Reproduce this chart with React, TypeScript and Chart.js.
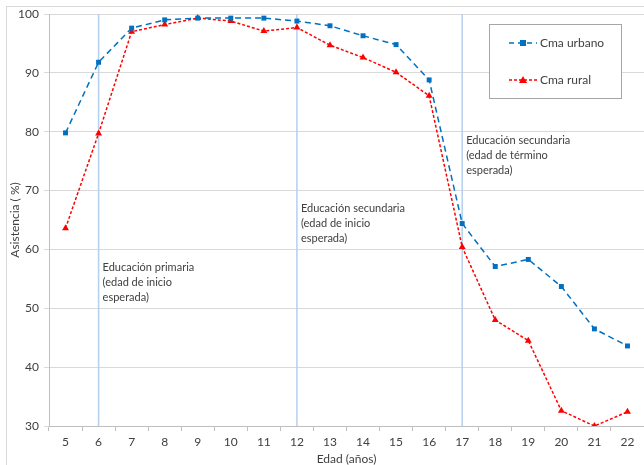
import React, { useEffect, useRef } from "react";
import { Chart, registerables } from "chart.js";

Chart.register(...registerables);

const ages: string[] = ["5", "6", "7", "8", "9", "10", "11", "12", "13", "14", "15", "16", "17", "18", "19", "20", "21", "22"];
const urbano: number[] = [79.8, 91.8, 97.6, 99.0, 99.3, 99.3, 99.3, 98.8, 98.0, 96.3, 94.8, 88.8, 64.4, 57.1, 58.3, 53.7, 46.5, 43.6];
const rural: number[] = [63.6, 79.7, 97.0, 98.2, 99.3, 98.8, 97.1, 97.7, 94.7, 92.6, 90.1, 86.1, 60.4, 48.0, 44.5, 32.6, 30.0, 32.4];
const seriesNames: string[] = ["Cma urbano", "Cma rural"];
const markerAges: string[] = ["6", "12", "17"];
const notes: string[][] = [
  ["Educación primaria", "(edad de inicio", "esperada)"],
  ["Educación secundaria", "(edad de inicio", "esperada)"],
  ["Educación secundaria", "(edad de término", "esperada)"],
];
const noteValues: number[] = [57.0, 66.9, 78.6];

const FONT = "Lato, 'Open Sans', sans-serif";
const BLUE = "#0070c0";
const RED = "#ff0000";
const TEXT = "#404040";

const overlay = {
  id: "overlay",
  beforeDatasetsDraw(chart: any) {
    const ctx = chart.ctx;
    const x = chart.scales.x;
    const y = chart.scales.y;
    const area = chart.chartArea;
    ctx.save();
    ctx.strokeStyle = "#b4d0ee";
    ctx.lineWidth = 1.5;
    markerAges.forEach((a, i) => {
      const px = x.getPixelForValue(ages.indexOf(a));
      ctx.beginPath();
      ctx.moveTo(px, area.top);
      ctx.lineTo(px, area.bottom);
      ctx.stroke();
      ctx.fillStyle = TEXT;
      ctx.font = `11px ${FONT}`;
      ctx.textBaseline = "middle";
      ctx.textAlign = "left";
      const py = y.getPixelForValue(noteValues[i]);
      notes[i].forEach((line, j) => {
        ctx.fillText(line, px + 4, py + j * 15);
      });
    });
    ctx.restore();
  },
  afterDraw(chart: any) {
    const ctx = chart.ctx;
    ctx.save();
    ctx.strokeStyle = "#d9d9d9";
    ctx.lineWidth = 1;
    ctx.strokeRect(6.5, 6.5, 800, 600);
    ctx.fillStyle = "#ffffff";
    ctx.fillRect(489, 24, 133, 75);
    ctx.strokeStyle = "#a6a6a6";
    ctx.strokeRect(489.5, 24.5, 132, 74);
    const rows = [
      { y: 43, color: BLUE, dash: [5, 4], style: "rect" },
      { y: 80, color: RED, dash: [3, 2], style: "triangle" },
    ];
    rows.forEach((r, i) => {
      ctx.strokeStyle = r.color;
      ctx.lineWidth = 1.5;
      ctx.setLineDash(r.dash);
      ctx.beginPath();
      ctx.moveTo(509, r.y);
      ctx.lineTo(537, r.y);
      ctx.stroke();
      ctx.setLineDash([]);
      ctx.fillStyle = r.color;
      if (r.style === "rect") {
        ctx.fillRect(520, r.y - 3, 6, 6);
      } else {
        ctx.beginPath();
        ctx.moveTo(523, r.y - 4);
        ctx.lineTo(527, r.y + 3);
        ctx.lineTo(519, r.y + 3);
        ctx.closePath();
        ctx.fill();
      }
      ctx.fillStyle = TEXT;
      ctx.font = `12px ${FONT}`;
      ctx.textBaseline = "middle";
      ctx.textAlign = "left";
      ctx.fillText(seriesNames[i], 540, r.y);
    });
    ctx.restore();
  },
};

export default function App() {
  const ref = useRef<HTMLCanvasElement | null>(null);
  useEffect(() => {
    document.body.style.margin = "0";
    if (!ref.current) return;
    const chart = new Chart(ref.current, {
      type: "line",
      data: {
        labels: ages,
        datasets: [
          {
            label: seriesNames[0],
            data: urbano,
            borderColor: BLUE,
            backgroundColor: BLUE,
            borderWidth: 1.5,
            borderDash: [6, 4],
            pointStyle: "rect",
            pointRadius: 3.5,
            pointBorderWidth: 0,
            tension: 0,
          },
          {
            label: seriesNames[1],
            data: rural,
            borderColor: RED,
            backgroundColor: RED,
            borderWidth: 1.5,
            borderDash: [3, 2],
            pointStyle: "triangle",
            pointRadius: 4,
            pointBorderWidth: 0,
            tension: 0,
          },
        ],
      },
      options: {
        animation: false,
        responsive: true,
        maintainAspectRatio: false,
        layout: { autoPadding: false, padding: { top: 14, right: 0, left: 0, bottom: 0 } },
        plugins: { legend: { display: false }, tooltip: { enabled: false } },
        scales: {
          x: {
            offset: true,
            grid: { drawOnChartArea: false, offset: true, tickLength: 5, color: "#bfbfbf" },
            border: { color: "#bfbfbf" },
            ticks: { color: TEXT, font: { family: FONT, size: 12 }, padding: 4, maxRotation: 0, autoSkip: false },
            title: { display: true, text: "Edad (años)", color: TEXT, font: { family: FONT, size: 12, lineHeight: 1 }, padding: { top: 0, bottom: 0 } },
            afterFit: (s: any) => { s.height = 39; s.paddingLeft = 0; s.paddingRight = 0; },
          },
          y: {
            min: 30,
            max: 100,
            ticks: { stepSize: 10, color: TEXT, font: { family: FONT, size: 12 }, padding: 5 },
            grid: { color: "#d9d9d9", tickLength: 5 },
            border: { color: "#bfbfbf" },
            title: { display: true, text: "Asistencia ( %)", color: TEXT, font: { family: FONT, size: 12, lineHeight: 1 }, padding: { top: 9, bottom: 0 } },
            afterFit: (s: any) => { s.width = 49; s.paddingTop = 0; s.paddingBottom = 0; },
          },
        },
      },
      plugins: [overlay],
    });
    return () => chart.destroy();
  }, []);
  return (
    <div style={{ position: "fixed", left: 0, top: 0, width: 644, height: 465, background: "#fff" }}>
      <canvas ref={ref} />
    </div>
  );
}
